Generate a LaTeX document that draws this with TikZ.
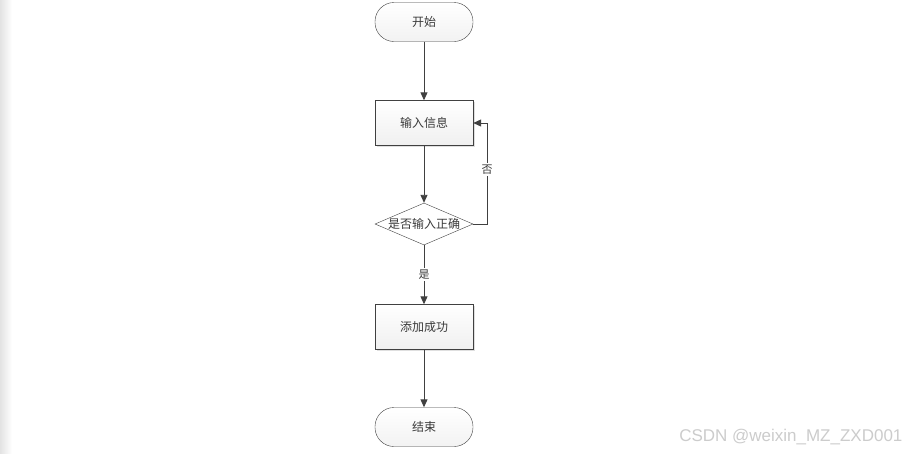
\documentclass[tikz,border=0pt]{standalone}
\usepackage{fontspec}
\setmainfont{Liberation Sans}
\newfontfamily\cjk{Noto Sans CJK SC}
\usepackage{xcolor}
\usepackage{tikz}
\usetikzlibrary{shadows,arrows.meta,shapes.geometric,positioning}
\definecolor{linegray}{HTML}{404040}
\definecolor{textgray}{HTML}{3A3A3A}
\tikzset{
  boxshadow/.style={
    general shadow={shadow xshift=1.5pt, shadow yshift=-1.5pt, opacity=0.25, fill=black!50}
  }
}
\tikzset{every shadow/.style={}}

\begin{document}
\begin{tikzpicture}[
        x=1pt, y=1pt,
        every node/.style={font=\cjk\fontsize{12}{14}\selectfont, text=textgray, align=center},
        terminal/.style={draw=linegray, rectangle, rounded corners=19pt, minimum width=98pt, minimum height=39pt, top color=white, bottom color=gray!10},
        process/.style={draw=linegray, rectangle, minimum width=98pt, minimum height=45pt, top color=white, bottom color=gray!12, boxshadow},
        decision/.style={draw=linegray, diamond, aspect=2.33, inner xsep=-4pt, inner ysep=0pt, minimum width=98pt, minimum height=42pt, fill=white},
        flow/.style={draw=linegray, line width=0.9pt, -{Triangle[width=7pt,length=8pt]}},
        edgelabel/.style={fill=white, inner sep=1.5pt, font=\cjk\fontsize{11}{13}\selectfont}
    ]
        % Canvas and left edge
        \useasboundingbox (0,0) rectangle (909,-453);
        \fill[white] (0,0) rectangle (909,-453);
        \shade[left color=gray!22, right color=white] (0,0) rectangle (12,-453);

        % Start and end
        \node[terminal] (start) at (424,-22) {开始};
        \node[terminal] (end) at (424,-427) {结束};

        % Steps
        \node[process] (input) at (424,-123) {输入信息};
        \node[decision] (check) at (424,-224) {是否输入正确};
        \node[process] (add) at (424,-327) {添加成功};

        % Connect nodes
        \draw[flow] (start) -- (input);
        \draw[flow] (input) -- (check);
        \draw[flow] (check) -- node[edgelabel] {是} (add);
        \draw[flow] (check.east) -- ++(14,0) |- node[edgelabel, pos=0.27] {否} (input.east);
        \draw[flow] (add) -- (end);

        % Watermark
        \node[font=\fontsize{17}{19}\selectfont, text=gray!40, anchor=east] (mark) at (906,-437) {CSDN @weixin\_MZ\_ZXD001};
    \end{tikzpicture}
\end{document}
